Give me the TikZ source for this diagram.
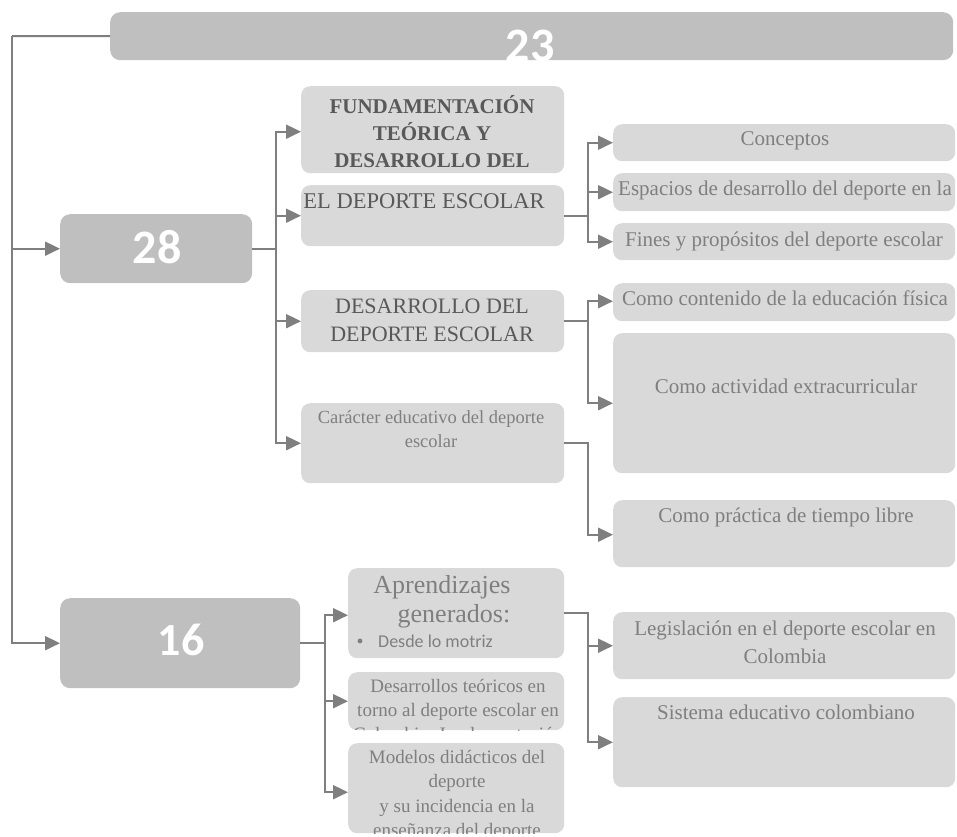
\documentclass[tikz,border=0pt]{standalone}
\usepackage{fontspec}
\setmainfont{Liberation Serif}
\newfontfamily\carl{Carlito}
\usetikzlibrary{arrows.meta}
\definecolor{boxl}{HTML}{D9D9D9}
\definecolor{boxd}{HTML}{BFBFBF}
\definecolor{linec}{HTML}{7F7F7F}
\definecolor{txd}{HTML}{595959}
\definecolor{txl}{HTML}{7F7F7F}
\newcommand{\fsz}[2]{\fontsize{#1}{#2}\selectfont}
\newcommand{\tlines}[1]{\begin{tabular}[t]{@{}c@{}}#1\end{tabular}}
\begin{document}
\begin{tikzpicture}[x=1pt,y=-1pt,
  lbox/.style={fill=boxl, rounded corners=9pt, draw=none, inner sep=0pt, anchor=north west},
  dbox/.style={fill=boxd, rounded corners=10pt, draw=none, inner sep=0pt, anchor=north west},
  ln/.style={draw=linec, line width=2pt},
  arr/.style={-{Triangle[length=15pt,width=14pt]}},
  txt/.style={inner sep=0pt, anchor=base, text=txl},
  txtd/.style={inner sep=0pt, anchor=base, text=txd},
  num/.style={inner sep=0pt, anchor=base, text=white, font=\carl\bfseries\fontsize{48}{50}\selectfont}
]
\useasboundingbox (0,0) rectangle (957,836);

% boxes
\node[dbox, minimum width=843pt, minimum height=48pt] (top) at (110,12) {};
\node[dbox, minimum width=192pt, minimum height=69pt] (b28) at (60,214) {};
\node[dbox, minimum width=240pt, minimum height=90pt] (b16) at (60,598) {};
\node[lbox, minimum width=263pt, minimum height=87pt] (fund) at (301,86) {};
\node[lbox, minimum width=263pt, minimum height=61pt] (elds) at (301,185) {};
\node[lbox, minimum width=263pt, minimum height=62pt] (desa) at (301,290) {};
\node[lbox, minimum width=263pt, minimum height=80pt] (cara) at (301,403) {};
\node[lbox, minimum width=342pt, minimum height=37pt] (conc) at (613,124) {};
\node[lbox, minimum width=342pt, minimum height=38pt] (espa) at (613,173) {};
\node[lbox, minimum width=342pt, minimum height=37pt] (fine) at (613,223) {};
\node[lbox, minimum width=342pt, minimum height=38pt] (cont) at (613,283) {};
\node[lbox, minimum width=342pt, minimum height=140pt] (acti) at (613,333) {};
\node[lbox, minimum width=342pt, minimum height=67pt] (prac) at (613,500) {};
\node[lbox, minimum width=216pt, minimum height=90pt] (apre) at (348,568) {};
\node[lbox, minimum width=216pt, minimum height=58pt] (dteo) at (348,672) {};
\node[lbox, minimum width=216pt, minimum height=90pt] (mode) at (348,743) {};
\node[lbox, minimum width=342pt, minimum height=67pt] (legi) at (613,612) {};
\node[lbox, minimum width=342pt, minimum height=90pt] (sist) at (613,697) {};

% connectors
\coordinate (L) at (12,36);
\draw[ln] (top.west) -- (L);
\draw[ln,arr] (L) |- (b28.west);
\draw[ln,arr] (L) |- (b16.west);

\draw[ln,arr] (b28.east) -- ++(24,0) |- ([yshift=-2pt]fund.west);
\draw[ln,arr] (b28.east) -- ++(24,0) |- (elds.west);
\draw[ln,arr] (b28.east) -- ++(24,0) |- (desa.west);
\draw[ln,arr] (b28.east) -- ++(24,0) |- (cara.west);

\draw[ln,arr] (elds.east) -- ++(24,0) |- (conc.west);
\draw[ln,arr] (elds.east) -- ++(24,0) |- (espa.west);
\draw[ln,arr] (elds.east) -- ++(24,0) |- (fine.west);

\draw[ln,arr] (desa.east) -- ++(24,0) |- ([yshift=1pt]cont.west);
\draw[ln,arr] (desa.east) -- ++(24,0) |- (acti.west);
\draw[ln,arr] (cara.east) -- ++(24,0) |- ([yshift=-1pt]prac.west);

\draw[ln,arr] (b16.east) -- ++(25,0) |- ([yshift=-2pt]apre.west);
\draw[ln,arr] (b16.east) -- ++(25,0) |- (dteo.west);
\draw[ln,arr] (b16.east) -- ++(25,0) |- ([yshift=-4pt]mode.west);

\draw[ln,arr] (apre.east) -- ++(24,0) |- (legi.west);
\draw[ln,arr] (apre.east) -- ++(24,0) |- (sist.west);

% numbers
\node[num] (t23) at (530,61) {23};
\node[num] (t28) at (157,263) {28};
\node[num, font=\carl\bfseries\fontsize{46}{48}\selectfont] (t16) at (181,655) {16};

% texts, left column
\node[txtd, font=\bfseries\fsz{21}{27}] (tfund) at (432,113) {\tlines{FUNDAMENTACIÓN\\TEÓRICA Y\\DESARROLLO DEL}};
\node[txtd, font=\fsz{22.5}{28}] (telds) at (424,208) {EL DEPORTE ESCOLAR};
\node[txtd, font=\fsz{22}{28}] (tdesa) at (432,313) {\tlines{DESARROLLO DEL\\DEPORTE ESCOLAR}};
\node[txt, font=\fsz{18.5}{24}] (tcara) at (431,423) {\tlines{Carácter educativo del deporte\\escolar}};

% texts, right column
\node[txt, font=\fsz{21}{26}] (tconc) at (785,145) {Conceptos};
\node[txt, font=\fsz{21}{26}] (tespa) at (785,195) {Espacios de desarrollo del deporte en la};
\node[txt, font=\fsz{21}{26}] (tfine) at (784,246) {Fines y propósitos del deporte escolar};
\node[txt, font=\fsz{21}{26}] (tcont) at (785,305) {Como contenido de la educación física};
\node[txt, font=\fsz{21}{26}] (tacti) at (786,393) {Como actividad extracurricular};
\node[txt, font=\fsz{21}{26}] (tprac) at (786,522) {Como práctica de tiempo libre};
\node[txt, font=\fsz{21}{28}] (tlegi) at (785,635) {\tlines{Legislación en el deporte escolar en\\Colombia}};
\node[txt, font=\fsz{21}{26}] (tsist) at (786,719) {Sistema educativo colombiano};

% texts, bottom middle
\node[txt, font=\fsz{26}{29}] (tapr1) at (442,593) {Aprendizajes};
\node[txt, font=\fsz{26}{29}] (tapr2) at (454,622) {generados:};
\node[txt, font=\carl\fsz{18}{22}, anchor=base west] (tapr3) at (378,647) {Desde lo motriz};
\fill[txl] (360,641) circle (2.4);
\begin{scope}
  \clip[rounded corners=9pt] (348,672) rectangle (564,730);
  \node[txt, font=\fsz{19}{24}] (tdteo) at (458,692) {\tlines{Desarrollos teóricos en\\torno al deporte escolar en\\Colombia: Implementación}};
\end{scope}
\begin{scope}
  \clip[rounded corners=9pt] (348,743) rectangle (564,833);
  \node[txt, font=\fsz{19}{24.5}] (tmode) at (457,763) {\tlines{Modelos didácticos del\\deporte\\y su incidencia en la\\enseñanza del deporte}};
\end{scope}
\end{tikzpicture}
\end{document}
